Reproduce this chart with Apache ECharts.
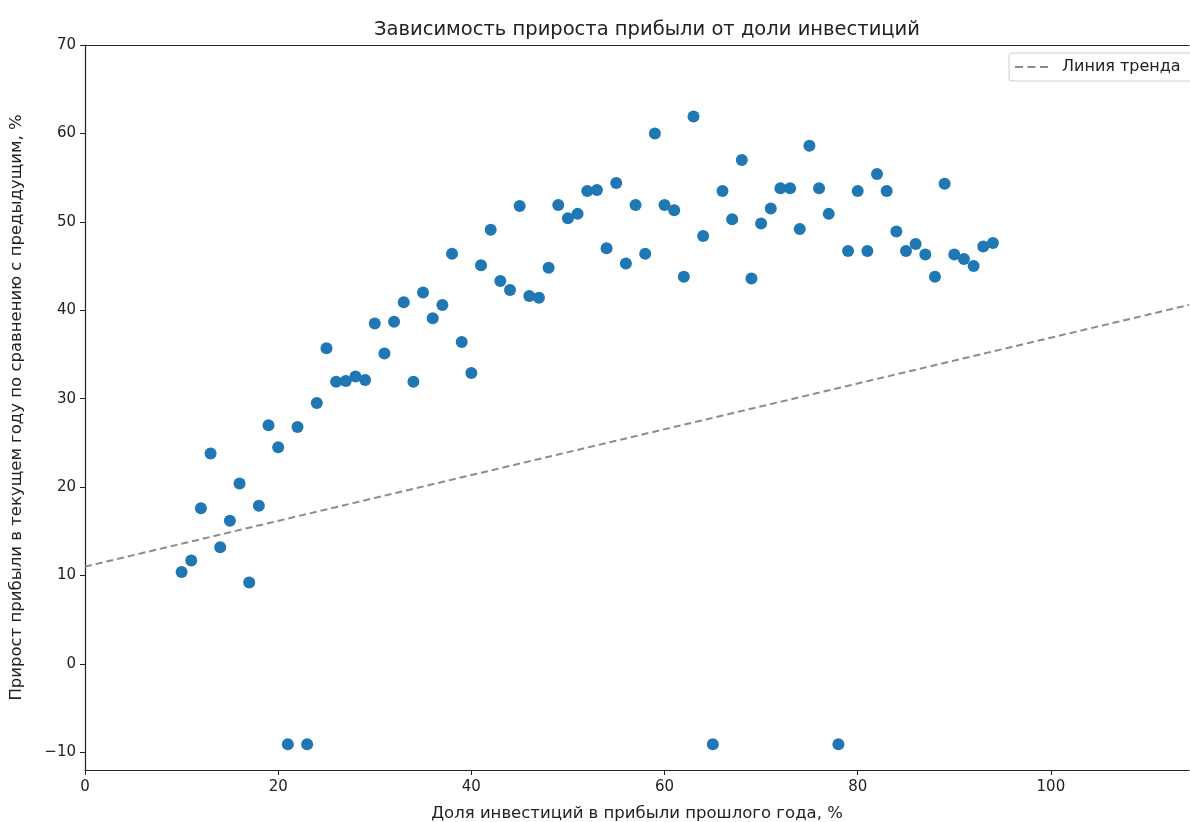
<!DOCTYPE html>
<html>
<head>
<meta charset="utf-8">
<script src="https://cdn.jsdelivr.net/npm/echarts@6/dist/echarts.min.js"></script>
<style>
  html, body { margin: 0; padding: 0; background: #fff; }
  #chart { width: 1190px; height: 822px; }
</style>
</head>
<body>
<div id="chart"></div>
<script>
	var chart = echarts.init(document.getElementById('chart'));
	// доля инвестиций, %
	let invest = [10,11,12,13,14,15,16,17,18,19,20,21,22,23,24,25,26,27,28,29,30,31,32,33,34,35,36,37,38,39,40,41,42,43,44,45,46,47,48,49,50,51,52,53,54,55,56,57,58,59,60,61,62,63,64,65,66,67,68,69,70,71,72,73,74,75,76,77,78,79,80,81,82,83,84,85,86,87,88,89,90,91,92,93,94];
	// прирост прибыли, %
	let growth = [10.4,11.7,17.6,23.8,13.2,16.2,20.4,9.2,17.9,27.0,24.5,-9.1,26.8,-9.1,29.5,35.7,31.9,32.0,32.5,32.1,38.5,35.1,38.7,40.9,31.9,42.0,39.1,40.6,46.4,36.4,32.9,45.1,49.1,43.3,42.3,51.8,41.6,41.4,44.8,51.9,50.4,50.9,53.5,53.6,47.0,54.4,45.3,51.9,46.4,60.0,51.9,51.3,43.8,61.9,48.4,-9.1,53.5,50.3,57.0,43.6,49.8,51.5,53.8,53.8,49.2,58.6,53.8,50.9,-9.1,46.7,53.5,46.7,55.4,53.5,48.9,46.7,47.5,46.3,43.8,54.3,46.3,45.8,45.0,47.2,47.6];
	// линия тренда: концы
	let trendX = [0, 114.3];
	let trendY = [11.0, 40.6];
	// подписи делений
	let xTicks = [0, 20, 40, 60, 80, 100];
	let yTicks = [-10, 0, 10, 20, 30, 40, 50, 60, 70];

	let points = invest.map(function (v, i) { return [v, growth[i]]; });
	let trend = trendX.map(function (v, i) { return [v, trendY[i]]; });

	let font = 'DejaVu Sans';
	let ink = '#222';
	let option = {
		animation: false,
		backgroundColor: '#fff',
		title: {
			text: 'Зависимость прироста прибыли от доли инвестиций',
			left: 642,
			top: 15,
			textAlign: 'center',
			textStyle: { color: ink, fontSize: 19.5, fontWeight: 'normal', fontFamily: font }
		},
		legend: {
			data: [{ name: 'Линия тренда', icon: 'path://M0,0h8v2h-8z M12.5,0h8v2h-8z M25,0h8v2h-8z' }],
			left: 1009,
			top: 53,
			itemWidth: 33,
			itemHeight: 2,
			padding: [6, 20, 6, 6],
			borderColor: '#ccc',
			borderWidth: 1,
			borderRadius: 3,
			textStyle: { color: ink, fontSize: 16, fontFamily: font, padding: [0, 0, 0, 9] }
		},
		grid: { left: 85, right: 1, top: 45, bottom: 52, outerBoundsMode: 'none', containLabel: false },
		xAxis: [{
			type: 'value',
			min: 0,
			max: 114.3,
			name: 'Доля инвестиций в прибыли прошлого года, %',
			nameLocation: 'middle',
			nameGap: 35,
			nameTextStyle: { color: ink, fontSize: 16.5, fontFamily: font },
			axisLine: { show: true, onZero: false, lineStyle: { color: ink, width: 1.2 } },
			axisTick: { show: true, length: 5, customValues: xTicks, lineStyle: { color: ink } },
			axisLabel: { color: ink, fontSize: 15, fontFamily: font, margin: 10, customValues: xTicks },
			splitLine: { show: false }
		}, {
			type: 'value',
			position: 'top',
			min: 0,
			max: 114.3,
			axisLine: { show: true, onZero: false, lineStyle: { color: ink, width: 1.2 } },
			axisTick: { show: false },
			axisLabel: { show: false },
			splitLine: { show: false }
		}],
		yAxis: {
			type: 'value',
			min: -12,
			max: 70,
			name: 'Прирост прибыли в текущем году по сравнению с предыдущим, %',
			nameLocation: 'middle',
			nameRotate: 90,
			nameGap: 60,
			nameTextStyle: { color: ink, fontSize: 16.5, fontFamily: font },
			axisLine: { show: true, onZero: false, lineStyle: { color: ink, width: 1.2 } },
			axisTick: { show: true, length: 5, customValues: yTicks, lineStyle: { color: ink } },
			axisLabel: {
				color: ink, fontSize: 15, fontFamily: font, margin: 9,
				customValues: yTicks,
				formatter: function (v) { return v < 0 ? '\u2212' + Math.abs(v) : v; }
			},
			splitLine: { show: false }
		},
		series: [{
			name: 'Линия тренда',
			type: 'line',
			data: trend,
			symbol: 'none',
			lineStyle: { color: '#8c8c8c', width: 2, type: [7, 4] },
			itemStyle: { color: '#8c8c8c' },
			z: 1
		}, {
			name: 'data',
			type: 'scatter',
			data: points,
			symbolSize: 12,
			itemStyle: { color: '#1f77b4', opacity: 1 },
			z: 2
		}]
	};
	chart.setOption(option);
</script>
</body>
</html>
